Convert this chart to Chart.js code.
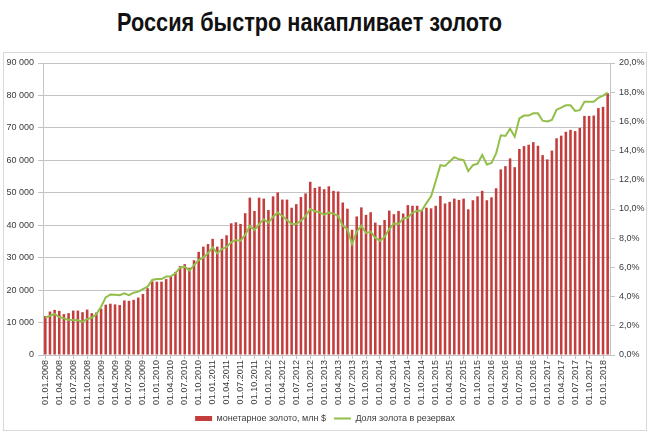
<!DOCTYPE html>
<html lang="ru">
<head>
<meta charset="utf-8">
<script src="https://cdn.jsdelivr.net/npm/chart.js@4.4.1/dist/chart.umd.min.js"></script>
<style>
  html, body { margin: 0; padding: 0; background: #fff; }
  #wrap { position: relative; width: 650px; height: 433px; overflow: hidden; }
  #frame { position: absolute; left: 3px; top: 52px; width: 642px; height: 377px; border: 1px solid #d9d9d9; }
  #title { position: absolute; left: 0; top: 7px; width: 620px; text-align: center; white-space: nowrap;
           font: bold 26px "Liberation Sans Narrow", "Liberation Sans", sans-serif; color: #111; line-height: 30px; }
  #title span { display: inline-block; }
  #chart { position: absolute; left: 0; top: 0; }
</style>
</head>
<body>
<div id="wrap">
  <div id="frame"></div>
  <div id="title"><span>Россия быстро накапливает золото</span></div>
  <canvas id="chart" width="650" height="433"></canvas>
</div>
<script>
// Даты (на 1-е число месяца)
const months = [
  '01.01.2008','01.02.2008','01.03.2008','01.04.2008','01.05.2008','01.06.2008','01.07.2008','01.08.2008','01.09.2008','01.10.2008','01.11.2008','01.12.2008',
  '01.01.2009','01.02.2009','01.03.2009','01.04.2009','01.05.2009','01.06.2009','01.07.2009','01.08.2009','01.09.2009','01.10.2009','01.11.2009','01.12.2009',
  '01.01.2010','01.02.2010','01.03.2010','01.04.2010','01.05.2010','01.06.2010','01.07.2010','01.08.2010','01.09.2010','01.10.2010','01.11.2010','01.12.2010',
  '01.01.2011','01.02.2011','01.03.2011','01.04.2011','01.05.2011','01.06.2011','01.07.2011','01.08.2011','01.09.2011','01.10.2011','01.11.2011','01.12.2011',
  '01.01.2012','01.02.2012','01.03.2012','01.04.2012','01.05.2012','01.06.2012','01.07.2012','01.08.2012','01.09.2012','01.10.2012','01.11.2012','01.12.2012',
  '01.01.2013','01.02.2013','01.03.2013','01.04.2013','01.05.2013','01.06.2013','01.07.2013','01.08.2013','01.09.2013','01.10.2013','01.11.2013','01.12.2013',
  '01.01.2014','01.02.2014','01.03.2014','01.04.2014','01.05.2014','01.06.2014','01.07.2014','01.08.2014','01.09.2014','01.10.2014','01.11.2014','01.12.2014',
  '01.01.2015','01.02.2015','01.03.2015','01.04.2015','01.05.2015','01.06.2015','01.07.2015','01.08.2015','01.09.2015','01.10.2015','01.11.2015','01.12.2015',
  '01.01.2016','01.02.2016','01.03.2016','01.04.2016','01.05.2016','01.06.2016','01.07.2016','01.08.2016','01.09.2016','01.10.2016','01.11.2016','01.12.2016',
  '01.01.2017','01.02.2017','01.03.2017','01.04.2017','01.05.2017','01.06.2017','01.07.2017','01.08.2017','01.09.2017','01.10.2017','01.11.2017','01.12.2017',
  '01.01.2018','01.02.2018'
];

// монетарное золото, млн $
const goldMln = [
  12000, 13400, 13900, 13600, 12600, 12900, 13700, 13700, 13200, 14000, 12900, 13100,
  14300, 15500, 15800, 15600, 15400, 16800, 16700, 17000, 17700, 18800, 20600, 22700,
  22600, 22600, 23400, 24200, 25600, 27400, 28000, 26900, 29200, 31800, 33400, 34200,
  35800, 33400, 35800, 36900, 40600, 40900, 40400, 43700, 48500, 44400, 48500, 48200,
  44700, 48900, 50100, 47900, 47900, 45400, 46500, 48700, 49800, 53400, 51500, 51900,
  51100, 52000, 50600, 50400, 47000, 45100, 38600, 42700, 45500, 43200, 44000, 40800,
  40000, 41600, 44500, 43400, 44400, 43600, 46200, 46000, 46000, 44600, 45400, 45200,
  46000, 49000, 46700, 47200, 48200, 47800, 48200, 44900, 47700, 48900, 50600, 47700,
  48600, 51400, 57200, 58200, 60600, 57900, 63500, 64400, 64800, 65600, 64500, 61600,
  60300, 63000, 66800, 67600, 68800, 69400, 69000, 70000, 73700, 73700, 73800, 76100,
  76500, 80700
];

// Доля золота в резервах, %
const goldShare = [
  2.56, 2.69, 2.81, 2.60, 2.51, 2.40, 2.40, 2.38, 2.28, 2.46, 2.55, 2.81,
  3.31, 3.95, 4.15, 4.13, 4.10, 4.22, 4.10, 4.27, 4.34, 4.52, 4.68, 5.14,
  5.20, 5.20, 5.37, 5.39, 5.60, 5.98, 6.05, 5.78, 6.16, 6.50, 6.69, 6.96,
  7.37, 6.96, 7.26, 7.40, 7.72, 7.88, 7.83, 8.22, 8.84, 8.56, 8.97, 9.29,
  9.06, 9.47, 9.75, 9.52, 9.25, 8.97, 8.97, 9.20, 9.52, 10.00, 9.85, 9.77,
  9.62, 9.75, 9.68, 9.52, 8.85, 8.62, 7.60, 8.45, 8.85, 8.35, 8.45, 8.02,
  7.83, 8.10, 8.63, 9.00, 8.97, 9.36, 9.40, 9.75, 9.87, 9.89, 10.40, 10.87,
  11.90, 13.00, 12.95, 13.25, 13.55, 13.40, 13.35, 12.60, 13.00, 13.10, 13.70, 13.05,
  13.15, 13.80, 15.05, 15.00, 15.50, 14.95, 16.20, 16.40, 16.40, 16.55, 16.55, 16.05,
  16.00, 16.10, 16.80, 16.95, 17.10, 17.10, 16.72, 16.77, 17.35, 17.35, 17.35, 17.62,
  17.76, 17.97
];

const RED = '#c43d3d';
const GREEN = '#92bf4a';
const GRID = '#c4c4c4';
const TEXT = '#3a3a3a';

// заголовок подгоняем по ширине, как в исходнике
const titleSpan = document.querySelector('#title span');
const tw = titleSpan.getBoundingClientRect().width;
titleSpan.style.transform = 'scaleX(' + (385 / tw) + ')';

Chart.defaults.font.family = "'Liberation Sans', Arial, sans-serif";
Chart.defaults.font.size = 9;
Chart.defaults.color = TEXT;

const fmtThousands = v => String(v).replace(/\B(?=(\d{3})+(?!\d))/g, ' ');

new Chart(document.getElementById('chart'), {
  data: {
    labels: months,
    datasets: [
      {
        type: 'line',
        label: 'Доля золота в резервах',
        data: goldShare,
        yAxisID: 'y1',
        borderColor: GREEN,
        backgroundColor: GREEN,
        borderWidth: 2,
        pointRadius: 0,
        tension: 0,
        order: 0
      },
      {
        type: 'bar',
        label: 'монетарное золото, млн $',
        data: goldMln,
        yAxisID: 'y',
        backgroundColor: RED,
        borderWidth: 0,
        barPercentage: 0.55,
        categoryPercentage: 1,
        order: 1
      }
    ]
  },
  options: {
    responsive: false,
    animation: false,
    layout: { padding: { top: 63, left: 0, right: 0, bottom: 0 } },
    plugins: {
      tooltip: { enabled: false },
      legend: {
        position: 'bottom',
        labels: {
          usePointStyle: true,
          pointStyleWidth: 17,
          boxHeight: 5,
          padding: 8,
          font: { size: 9 },
          sort: (a, b) => b.datasetIndex - a.datasetIndex,
          generateLabels: chart => {
            const items = Chart.defaults.plugins.legend.labels.generateLabels(chart);
            items.forEach(it => {
              it.pointStyle = it.datasetIndex === 0 ? 'line' : 'rect';
            });
            return items;
          }
        }
      }
    },
    scales: {
      x: {
        offset: true,
        grid: { display: true, drawOnChartArea: false, offset: false, tickLength: 4, color: GRID },
        border: { display: true, color: GRID },
        ticks: {
          autoSkip: false,
          maxRotation: 90,
          minRotation: 90,
          padding: 1,
          callback: function (val, i) { return i % 3 === 0 ? months[i] : null; }
        },
        afterFit: s => { s.height = 51; }
      },
      y: {
        position: 'left',
        min: 0,
        max: 90000,
        ticks: { stepSize: 10000, padding: 4, callback: v => fmtThousands(v) },
        grid: { color: GRID, tickLength: 5 },
        border: { display: true, color: GRID },
        afterFit: s => { s.width = 43; }
      },
      y1: {
        position: 'right',
        min: 0,
        max: 20,
        ticks: { stepSize: 2, padding: 4, callback: v => v.toFixed(1).replace('.', ',') + '%' },
        grid: { drawOnChartArea: false, color: GRID, tickLength: 5 },
        border: { display: true, color: GRID },
        afterFit: s => { s.width = 40; }
      }
    }
  }
});
</script>
</body>
</html>
